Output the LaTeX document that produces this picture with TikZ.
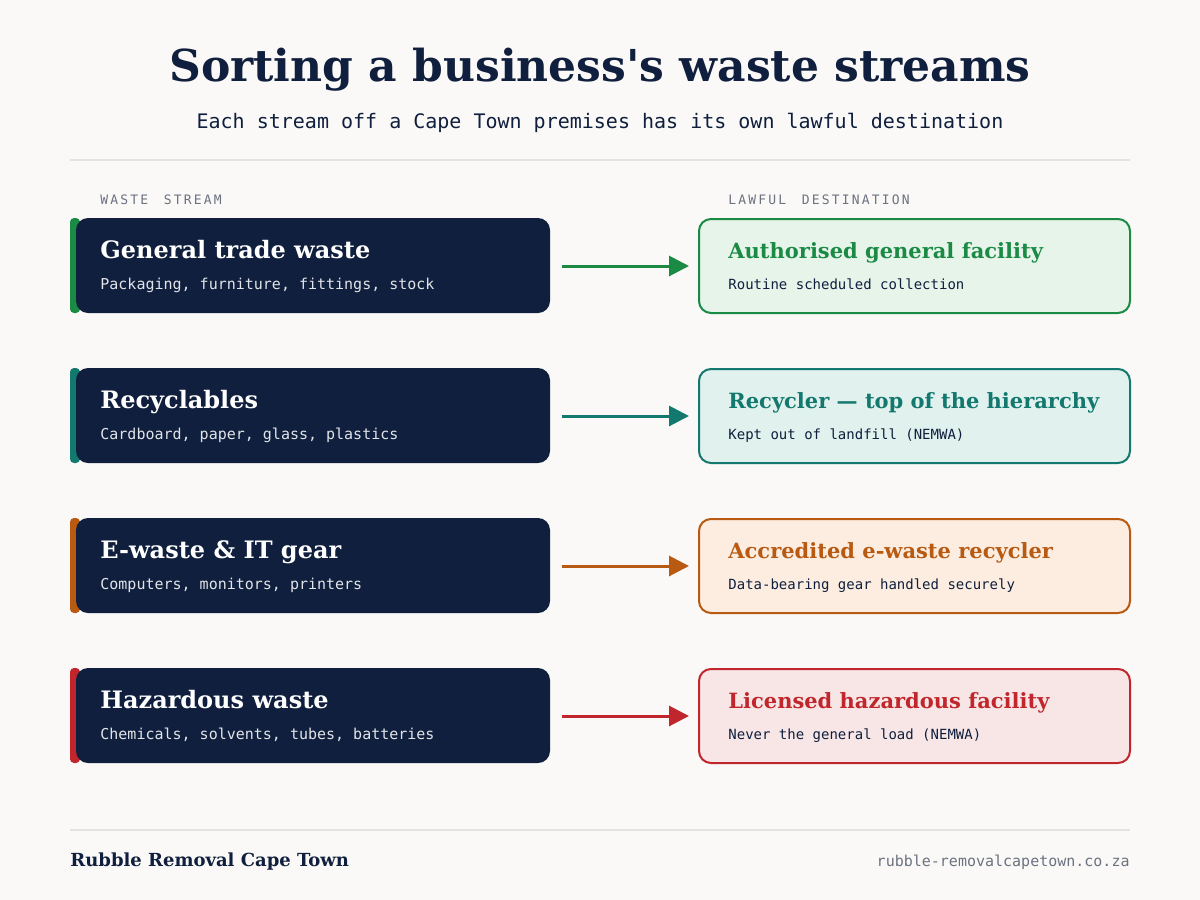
\documentclass[tikz,border=0pt]{standalone}
\usepackage{fontspec}
\setmainfont{DejaVu Serif}
\setmonofont{DejaVu Sans Mono}
\usetikzlibrary{arrows.meta}
\definecolor{bg}{HTML}{FAF9F7}
\definecolor{navy}{HTML}{0F1F3D}
\definecolor{cA}{HTML}{1A8A45}\definecolor{tA}{HTML}{E6F4EA}
\definecolor{cB}{HTML}{13786E}\definecolor{tB}{HTML}{E0F1EE}
\definecolor{cC}{HTML}{B85A12}\definecolor{tC}{HTML}{FCEDE0}
\definecolor{cD}{HTML}{C0262B}\definecolor{tD}{HTML}{F8E6E6}
\definecolor{gr}{HTML}{6B7280}
\definecolor{rule}{HTML}{E5E3DF}
\begin{document}
\begin{tikzpicture}[x=0.5pt,y=-0.5pt,every node/.style={inner sep=0pt},
 lt/.style={anchor=base west,text=white,font=\fontsize{12}{12}\selectfont\bfseries},
 ls/.style={anchor=base west,text=white!88!navy,font=\ttfamily\fontsize{7.5}{8}\selectfont},
 rt/.style={anchor=base west,font=\fontsize{10.5}{11}\selectfont\bfseries},
 rs/.style={anchor=base west,text=navy,font=\ttfamily\fontsize{7}{8}\selectfont},
 cl/.style={anchor=base west,text=gr,font=\ttfamily\fontsize{6.5}{7}\selectfont}]
\fill[bg] (0,0) rectangle (1200,900);
\node[text=navy,font=\fontsize{22}{24}\selectfont\bfseries] (title) at (600,70) {Sorting a business\textquotesingle s waste streams};
\node[text=navy,font=\ttfamily\fontsize{10}{11}\selectfont] (sub) at (600,123) {Each stream off a Cape Town premises has its own lawful destination};
\draw[rule,line width=1pt] (70,160) -- (1130,160);
\node[cl] (c1) at (100,204) {W\,A\,S\,T\,E\ \ S\,T\,R\,E\,A\,M};
\node[cl] (c2) at (728,204) {L\,A\,W\,F\,U\,L\ \ D\,E\,S\,T\,I\,N\,A\,T\,I\,O\,N};
\foreach \i/\c/\t/\a/\b/\d/\e in {
 0/A/A/General trade waste/{Packaging, furniture, fittings, stock}/Authorised general facility/Routine scheduled collection,
 1/B/B/Recyclables/{Cardboard, paper, glass, plastics}/Recycler — top of the hierarchy/Kept out of landfill (NEMWA),
 2/C/C/E-waste \& IT gear/{Computers, monitors, printers}/Accredited e-waste recycler/Data-bearing gear handled securely,
 3/D/D/Hazardous waste/{Chemicals, solvents, tubes, batteries}/Licensed hazardous facility/Never the general load (NEMWA)}{
 \pgfmathsetmacro\y{218+150*\i}
 \fill[c\c,rounded corners=2pt] (70,\y) rectangle (80,\y+95);
 \fill[navy,rounded corners=6pt] (76,\y) rectangle (550,\y+95);
 \node[lt] (l\i) at (100,\y+40) {\a};
 \node[ls] (ls\i) at (100,\y+71) {\b};
 \draw[c\c,fill=t\c,line width=1pt,rounded corners=6pt] (699,\y+1) rectangle (1130,\y+95) node[coordinate] (rc\i) {};
 \coordinate (ls\i) at (550,\y+48); \coordinate (rl\i) at (699,\y+48);
 \draw[c\c,line width=1.5pt,-{Triangle[length=10pt,width=10pt]}] ([xshift=6pt]ls\i) -- ([xshift=-5pt]rl\i);
 \node[rt,text=c\c] (r\i) at (728,\y+40) {\d};
 \node[rs] (rs\i) at (728,\y+71) {\e};
}
\draw[rule,line width=1pt] (70,830) -- (1130,830);
\node[anchor=base west,text=navy,font=\fontsize{9}{10}\selectfont\bfseries] (f1) at (70,866) {Rubble Removal Cape Town};
\node[anchor=base east,text=gr,font=\ttfamily\fontsize{7.5}{8}\selectfont] (f2) at (1130,866) {rubble-removalcapetown.co.za};
\end{tikzpicture}
\end{document}
